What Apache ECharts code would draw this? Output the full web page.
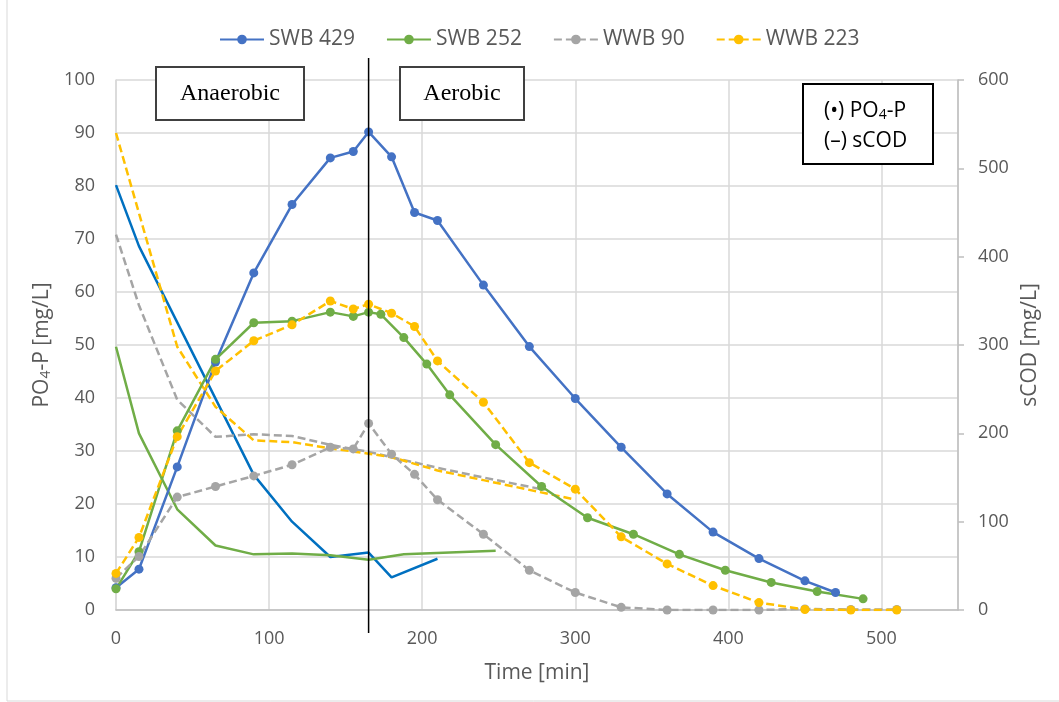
<!DOCTYPE html>
<html>
<head>
<meta charset="utf-8">
<script src="https://cdn.jsdelivr.net/npm/echarts@6/dist/echarts.min.js"></script>
<style>
  html, body { margin: 0; padding: 0; background: #fff; }
  #chart { width: 1059px; height: 702px; }
</style>
</head>
<body>
<div id="chart"></div>
<script>
// PO4-P (left axis, mg/L) — markers
const swb429Time = [0, 15, 40, 65, 90, 115, 140, 155, 165, 180, 195, 210, 240, 270, 300, 330, 360, 390, 420, 450, 470];
const swb429Po4 = [4.2, 7.7, 27.0, 46.8, 63.6, 76.5, 85.3, 86.5, 90.2, 85.5, 75.0, 73.5, 61.3, 49.7, 39.9, 30.7, 21.9, 14.7, 9.7, 5.5, 3.3];

const swb252Time = [0, 15, 40, 65, 90, 115, 140, 155, 165, 173, 188, 203, 218, 248, 278, 308, 338, 368, 398, 428, 458, 488];
const swb252Po4 = [4.0, 11.0, 33.8, 47.3, 54.2, 54.5, 56.2, 55.4, 56.2, 55.8, 51.4, 46.4, 40.6, 31.2, 23.3, 17.4, 14.3, 10.5, 7.5, 5.2, 3.5, 2.1];

const wwbTime = [0, 15, 40, 65, 90, 115, 140, 155, 165, 180, 195, 210, 240, 270, 300, 330, 360, 390, 420, 450, 480, 510];
const wwb90Po4 = [6.0, 10.1, 21.3, 23.3, 25.3, 27.4, 30.7, 30.4, 35.2, 29.4, 25.6, 20.8, 14.3, 7.5, 3.3, 0.5, 0, 0, 0, 0.2, 0.1, 0.1];
const wwb223Po4 = [6.9, 13.7, 32.7, 45.1, 50.8, 53.8, 58.3, 56.8, 57.7, 56.0, 53.5, 47.0, 39.2, 27.8, 22.8, 13.8, 8.7, 4.6, 1.4, 0.1, 0, 0];

// sCOD (right axis, mg/L) — lines only
const swb429CodTime = [0, 15, 90, 115, 140, 165, 180, 210];
const swb429Cod = [481, 412, 153, 100, 60, 65, 37, 58];

const swb252CodTime = [0, 15, 40, 65, 90, 115, 140, 165, 188, 248];
const swb252Cod = [298, 200, 114, 73, 63, 64, 62, 57, 63, 67];

const wwb90CodTime = [0, 15, 40, 65, 90, 115, 140, 165, 180, 210, 240, 280];
const wwb90Cod = [425, 345, 238, 196, 199, 197, 187, 179, 173, 161, 150, 136];

const wwb223CodTime = [0, 40, 65, 90, 115, 140, 165, 180, 210, 240, 270, 300];
const wwb223Cod = [540, 298, 230, 192, 190, 183, 177, 173, 158, 147, 136, 125];

const phaseSwitch = 165; // anaerobic -> aerobic

const legendNames = ['SWB 429', 'SWB 252', 'WWB 90', 'WWB 223'];

const textColor = '#595959';
const gridColor = '#D9D9D9';
const font = 'Open Sans';
const dash = [8, 4];

const pairs = (xs, ys) => xs.map((x, i) => [x, ys[i]]);

function po4Series(name, xs, ys, color, dashed) {
  return {
    name,
    type: 'line',
    yAxisIndex: 0,
    data: pairs(xs, ys),
    symbol: 'circle',
    symbolSize: 9,
    lineStyle: { color, width: 2.5, type: dashed ? dash : 'solid' },
    itemStyle: { color },
    z: 3,
  };
}

function codSeries(name, xs, ys, color, dashed) {
  return {
    name,
    type: 'line',
    yAxisIndex: 1,
    data: pairs(xs, ys),
    symbol: 'none',
    lineStyle: { color, width: 2.5, type: dashed ? dash : 'solid' },
    itemStyle: { color },
    z: 2,
  };
}

const chart = echarts.init(document.getElementById('chart'));

chart.setOption({
  animation: false,
  backgroundColor: '#fff',
  textStyle: { fontFamily: font },
  legend: {
    data: legendNames,
    left: 214,
    top: 24,
    itemWidth: 44,
    itemHeight: 12,
    itemGap: 31,
    textStyle: { fontSize: 21, color: textColor, fontFamily: font },
  },
  grid: { left: 116, right: 101, top: 80, bottom: 92 },
  xAxis: {
    type: 'value',
    min: 0,
    max: 550,
    interval: 100,
    name: 'Time [min]',
    nameLocation: 'middle',
    nameGap: 53,
    nameTextStyle: { fontSize: 21, color: textColor, fontFamily: font },
    axisLine: { show: true, lineStyle: { color: '#BFBFBF', width: 1.5 } },
    axisTick: { show: false },
    axisLabel: { fontSize: 18, color: textColor, margin: 20, showMaxLabel: false, fontFamily: font },
    splitLine: { show: true, lineStyle: { color: gridColor, width: 1.5 } },
  },
  yAxis: [
    {
      type: 'value',
      min: 0,
      max: 100,
      interval: 10,
      name: '{a|PO}{s|4}{a|-P [mg/L]}',
      nameLocation: 'middle',
      nameRotate: 90,
      nameGap: 58,
      nameTextStyle: {
        rich: {
          a: { fontSize: 21, color: textColor, fontFamily: font },
          s: { fontSize: 14, color: textColor, fontFamily: font, verticalAlign: 'bottom', padding: [8, 0, 0, 0] },
        },
      },
      axisLine: { show: true, lineStyle: { color: gridColor, width: 1.5 } },
      axisTick: { show: false },
      axisLabel: { fontSize: 18, color: textColor, margin: 21, fontFamily: font },
      splitLine: { show: true, lineStyle: { color: gridColor, width: 1.5 } },
    },
    {
      type: 'value',
      position: 'right',
      min: 0,
      max: 600,
      interval: 100,
      name: 'sCOD [mg/L]',
      nameLocation: 'middle',
      nameRotate: 90,
      nameGap: 62,
      nameTextStyle: { fontSize: 21, color: textColor, fontFamily: font },
      axisLine: { show: true, lineStyle: { color: '#BFBFBF', width: 1.5 } },
      axisTick: { show: true, length: 6, lineStyle: { color: '#BFBFBF', width: 1.5 } },
      axisLabel: { fontSize: 18, color: textColor, margin: 20, fontFamily: font },
      splitLine: { show: false },
    },
  ],
  series: [
    po4Series('SWB 429', swb429Time, swb429Po4, '#4472C4', false),
    po4Series('SWB 252', swb252Time, swb252Po4, '#70AD47', false),
    po4Series('WWB 90', wwbTime, wwb90Po4, '#A5A5A5', true),
    po4Series('WWB 223', wwbTime, wwb223Po4, '#FFC000', true),
    codSeries('SWB 429 sCOD', swb429CodTime, swb429Cod, '#0070C0', false),
    codSeries('SWB 252 sCOD', swb252CodTime, swb252Cod, '#70AD47', false),
    codSeries('WWB 90 sCOD', wwb90CodTime, wwb90Cod, '#A5A5A5', true),
    codSeries('WWB 223 sCOD', wwb223CodTime, wwb223Cod, '#FFC000', true),
  ],
});

// phase divider, placed through the x axis scale
const switchX = chart.convertToPixel({ xAxisIndex: 0 }, phaseSwitch);

chart.setOption({
  graphic: [
    {
      type: 'rect',
      silent: true,
      shape: { x: 7, y: -10, width: 1100, height: 711 },
      style: { fill: 'none', stroke: '#D9D9D9', lineWidth: 1 },
      z: 0,
    },
    {
      type: 'line',
      silent: true,
      shape: { x1: switchX, y1: 58, x2: switchX, y2: 633 },
      style: { stroke: '#000', lineWidth: 1.5 },
      z: 10,
    },
    {
      type: 'group',
      left: 155,
      top: 66,
      children: [
        { type: 'rect', shape: { x: 0, y: 0, width: 148, height: 53 }, style: { fill: '#fff', stroke: '#404040', lineWidth: 2 } },
        { type: 'text', x: 74, y: 27, style: { text: 'Anaerobic', font: '24px "Liberation Serif"', fill: '#000', align: 'center', verticalAlign: 'middle' } },
      ],
      z: 10,
    },
    {
      type: 'group',
      left: 399,
      top: 66,
      children: [
        { type: 'rect', shape: { x: 0, y: 0, width: 124, height: 53 }, style: { fill: '#fff', stroke: '#404040', lineWidth: 2 } },
        { type: 'text', x: 62, y: 27, style: { text: 'Aerobic', font: '24px "Liberation Serif"', fill: '#000', align: 'center', verticalAlign: 'middle' } },
      ],
      z: 10,
    },
    {
      type: 'group',
      left: 802,
      top: 83,
      children: [
        { type: 'rect', shape: { x: 0, y: 0, width: 130, height: 80 }, style: { fill: '#fff', stroke: '#000', lineWidth: 2 } },
        {
          type: 'text', x: 21, y: 27,
          style: {
            text: '{a|(•) PO}{s|4}{a|-P}',
            verticalAlign: 'middle',
            rich: {
              a: { fontSize: 21, fontFamily: font, fill: '#000' },
              s: { fontSize: 14, fontFamily: font, fill: '#000', verticalAlign: 'bottom', padding: [8, 0, 0, 0] },
            },
          },
        },
        { type: 'text', x: 21, y: 57, style: { text: '(–) sCOD', font: '21px "Open Sans"', fill: '#000', verticalAlign: 'middle' } },
      ],
      z: 10,
    },
  ],
});
</script>
</body>
</html>
